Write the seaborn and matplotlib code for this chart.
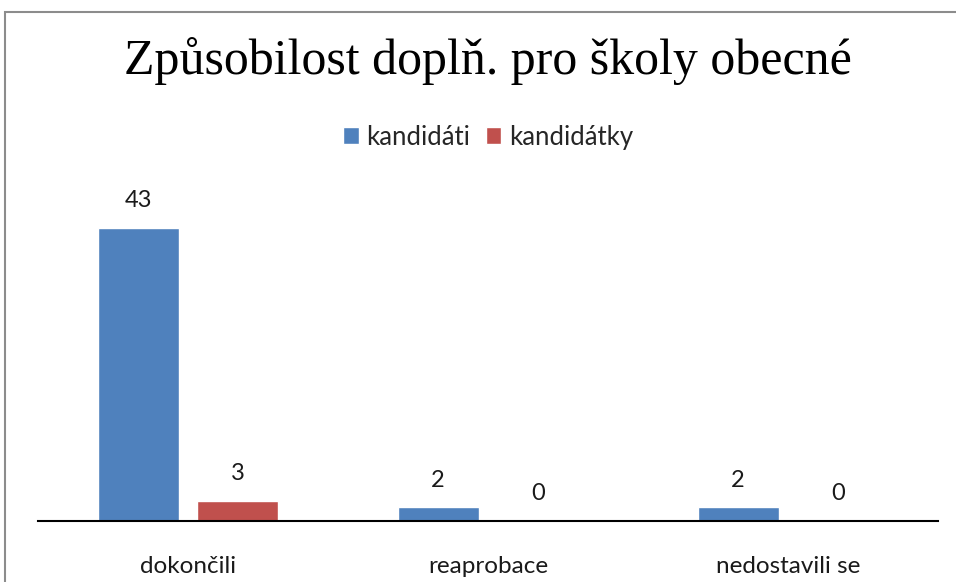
import pandas as pd
import seaborn as sns
import matplotlib.pyplot as plt
from matplotlib.patches import Rectangle

# data
categories = ['dokončili', 'reaprobace', 'nedostavili se']
kandidati = [43, 2, 2]
kandidatky = [3, 0, 0]
series_names = ['kandidáti', 'kandidátky']

df = pd.DataFrame({
    'kategorie': categories * 2,
    'pohlavi': [series_names[0]] * 3 + [series_names[1]] * 3,
    'pocet': kandidati + kandidatky,
})

sns.set_style('white')
plt.rcParams['font.family'] = ['Lato', 'DejaVu Sans']

fig = plt.figure(figsize=(9.56, 5.82), dpi=100)
ax = fig.add_axes([38 / 956, 61 / 582, 900 / 956, 341 / 582])

sns.barplot(
    data=df, x='kategorie', y='pocet', hue='pohlavi',
    palette=['#4F81BD', '#C0504D'], width=0.666, gap=0.19,
    saturation=1, ax=ax, legend=True,
)

for cont in ax.containers:
    ax.bar_label(cont, padding=12, fontsize=17, color='#1a1a1a')

ax.set_ylim(0, 50)
ax.set_xlim(-0.5, 2.5)
ax.set_xlabel('')
ax.set_ylabel('')
ax.set_yticks([])
ax.tick_params(axis='x', length=0, pad=25, labelsize=17.5, colors='#1a1a1a')
for side in ['top', 'right', 'left']:
    ax.spines[side].set_visible(False)
ax.spines['bottom'].set_color('black')
ax.spines['bottom'].set_linewidth(1.5)

ax.legend(
    loc='center', bbox_to_anchor=(488 / 956, 1 - 137 / 582),
    bbox_transform=fig.transFigure, ncol=2, frameon=False,
    fontsize=18.5, handlelength=0.6, handleheight=0.6,
    handletextpad=0.3, columnspacing=0.6,
)

fig.text(488 / 956, 1 - 61 / 582, 'Způsobilost doplň. pro školy obecné',
         ha='center', va='center', fontsize=36,
         family=['Liberation Serif', 'DejaVu Serif'], color='black')

# chart frame (cut off on the right and bottom)
fig.patches.append(Rectangle((5 / 956, -0.1), 1.0, 1 - 12 / 582 + 0.1,
                             transform=fig.transFigure, fill=False,
                             edgecolor='#8c8c8c', linewidth=1.5))

fig.savefig('out.png', dpi=100)
